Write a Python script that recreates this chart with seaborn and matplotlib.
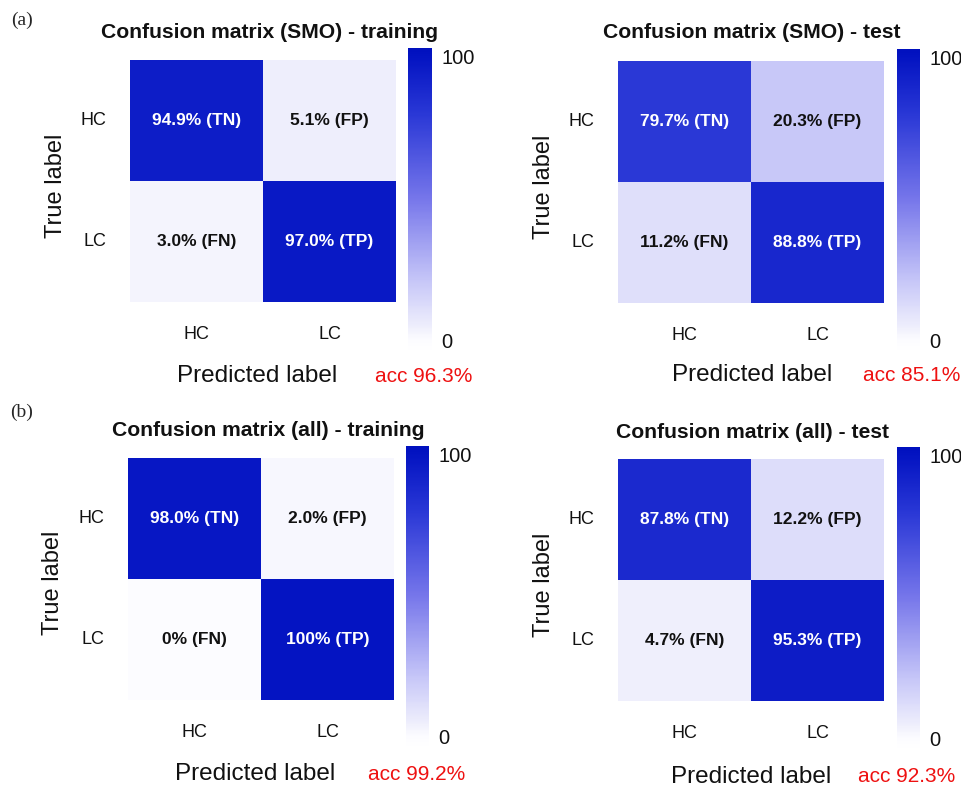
import numpy as np
import pandas as pd
import matplotlib
matplotlib.use("Agg")
import matplotlib.pyplot as plt
import seaborn as sns
from matplotlib.colors import LinearSegmentedColormap

sns.set_theme(style="white")
plt.rcParams["font.family"] = ["Liberation Sans", "DejaVu Sans"]

classes = ["HC", "LC"]
cell_tags = [["TN", "FP"], ["FN", "TP"]]

smo_train = [[94.9, 5.1], [3.0, 97.0]]
smo_test = [[79.7, 20.3], [11.2, 88.8]]
all_train = [[98.0, 2.0], [0.0, 100.0]]
all_test = [[87.8, 12.2], [4.7, 95.3]]

titles = [
    "Confusion matrix (SMO) - training",
    "Confusion matrix (SMO) - test",
    "Confusion matrix (all) - training",
    "Confusion matrix (all) - test",
]
accuracies = ["acc 96.3%", "acc 85.1%", "acc 99.2%", "acc 92.3%"]
panel_tags = ["(a)", "(b)"]

W, H = 962, 788
fig = plt.figure(figsize=(W / 100, H / 100), dpi=100)


def rect(x0, y0, x1, y1):
    return [x0 / W, 1 - y1 / H, (x1 - x0) / W, (y1 - y0) / H]


def pct_text(v, tag):
    s = f"{v:.0f}%" if v in (0.0, 100.0) else f"{v:.1f}%"
    return f"{s} ({tag})"


# white -> lavender -> saturated blue
VMIN, VMAX = -4, 103
cmap = LinearSegmentedColormap.from_list("wb", [
    (0.0, "#FFFFFF"),
    (0.037, "#FCFCFF"),
    (0.08, "#EFEFFC"),
    (0.151, "#DCDCFA"),
    (0.227, "#C8C8F8"),
    (0.505, "#7676EA"),
    (0.782, "#2A38D6"),
    (0.972, "#0414C2"),
    (1.0, "#0010BE"),
])

# heatmap box, colorbar box, title/label anchor points (pixels)
panels = [
    dict(data=smo_train, hm=(130, 60, 396, 302), cb=(408, 48, 432, 352),
         title=(270, 32), ylab=(56, 186), xlab=(257, 376), acc=(424, 376)),
    dict(data=smo_test, hm=(618, 61, 884, 303), cb=(897, 49, 920, 352),
         title=(752, 32), ylab=(544, 187), xlab=(752, 375), acc=(912, 375)),
    dict(data=all_train, hm=(128, 458, 394, 700), cb=(406, 446, 429, 748),
         title=(268, 430), ylab=(53, 583), xlab=(255, 774), acc=(417, 774)),
    dict(data=all_test, hm=(618, 459, 884, 701), cb=(897, 447, 920, 750),
         title=(752, 433), ylab=(544, 585), xlab=(751, 777), acc=(907, 777)),
]

for i, p in enumerate(panels):
    ax = fig.add_axes(rect(*p["hm"]))
    cax = fig.add_axes(rect(*p["cb"]))
    df = pd.DataFrame(p["data"], index=classes, columns=classes)
    annot = np.array([[pct_text(df.iloc[r, c], cell_tags[r][c]) for c in range(2)]
                      for r in range(2)])
    sns.heatmap(df, ax=ax, cbar_ax=cax, cmap=cmap, vmin=VMIN, vmax=VMAX,
                annot=annot, fmt="", linewidths=0,
                annot_kws=dict(fontsize=12.5, fontweight="bold"))
    for t in ax.texts:
        r, c = [(r, c) for r in range(2) for c in range(2)
                if pct_text(df.iloc[r, c], cell_tags[r][c]) == t.get_text()][0]
        t.set_color("white" if df.iloc[r, c] > 50 else "#111111")
    ax.tick_params(axis="both", length=0, labelsize=13, colors="#111111")
    ax.tick_params(axis="x", pad=17)
    ax.tick_params(axis="y", pad=17)
    ax.set_yticklabels(classes, rotation=0)
    ax.set_xticklabels(classes, rotation=0)
    ax.set_xlabel("")
    ax.set_ylabel("")

    cax.set_yticks([0, 100])
    cax.set_yticklabels(["0", "100"])
    cax.tick_params(length=0, labelsize=14.5, pad=7, colors="#111111")
    for s in cax.spines.values():
        s.set_visible(False)

    tx, ty = p["title"]
    fig.text(tx / W, 1 - ty / H, titles[i], ha="center", va="center",
             fontsize=15.2, fontweight="bold", color="#111111")
    x, y = p["ylab"]
    fig.text(x / W, 1 - y / H, "True label", ha="center", va="center",
             rotation=90, fontsize=17, color="#111111")
    x, y = p["xlab"]
    fig.text(x / W, 1 - y / H, "Predicted label", ha="center", va="center",
             fontsize=17.5, color="#111111")
    x, y = p["acc"]
    fig.text(x / W, 1 - y / H, accuracies[i], ha="center", va="center",
             fontsize=15, color="#ee1111")

fig.text(22 / W, 1 - 20 / H, panel_tags[0], ha="center", va="center",
         fontsize=14, family=["Liberation Serif", "DejaVu Serif"])
fig.text(22 / W, 1 - 412 / H, panel_tags[1], ha="center", va="center",
         fontsize=14, family=["Liberation Serif", "DejaVu Serif"])

fig.savefig("out.png", dpi=100, facecolor="white")
